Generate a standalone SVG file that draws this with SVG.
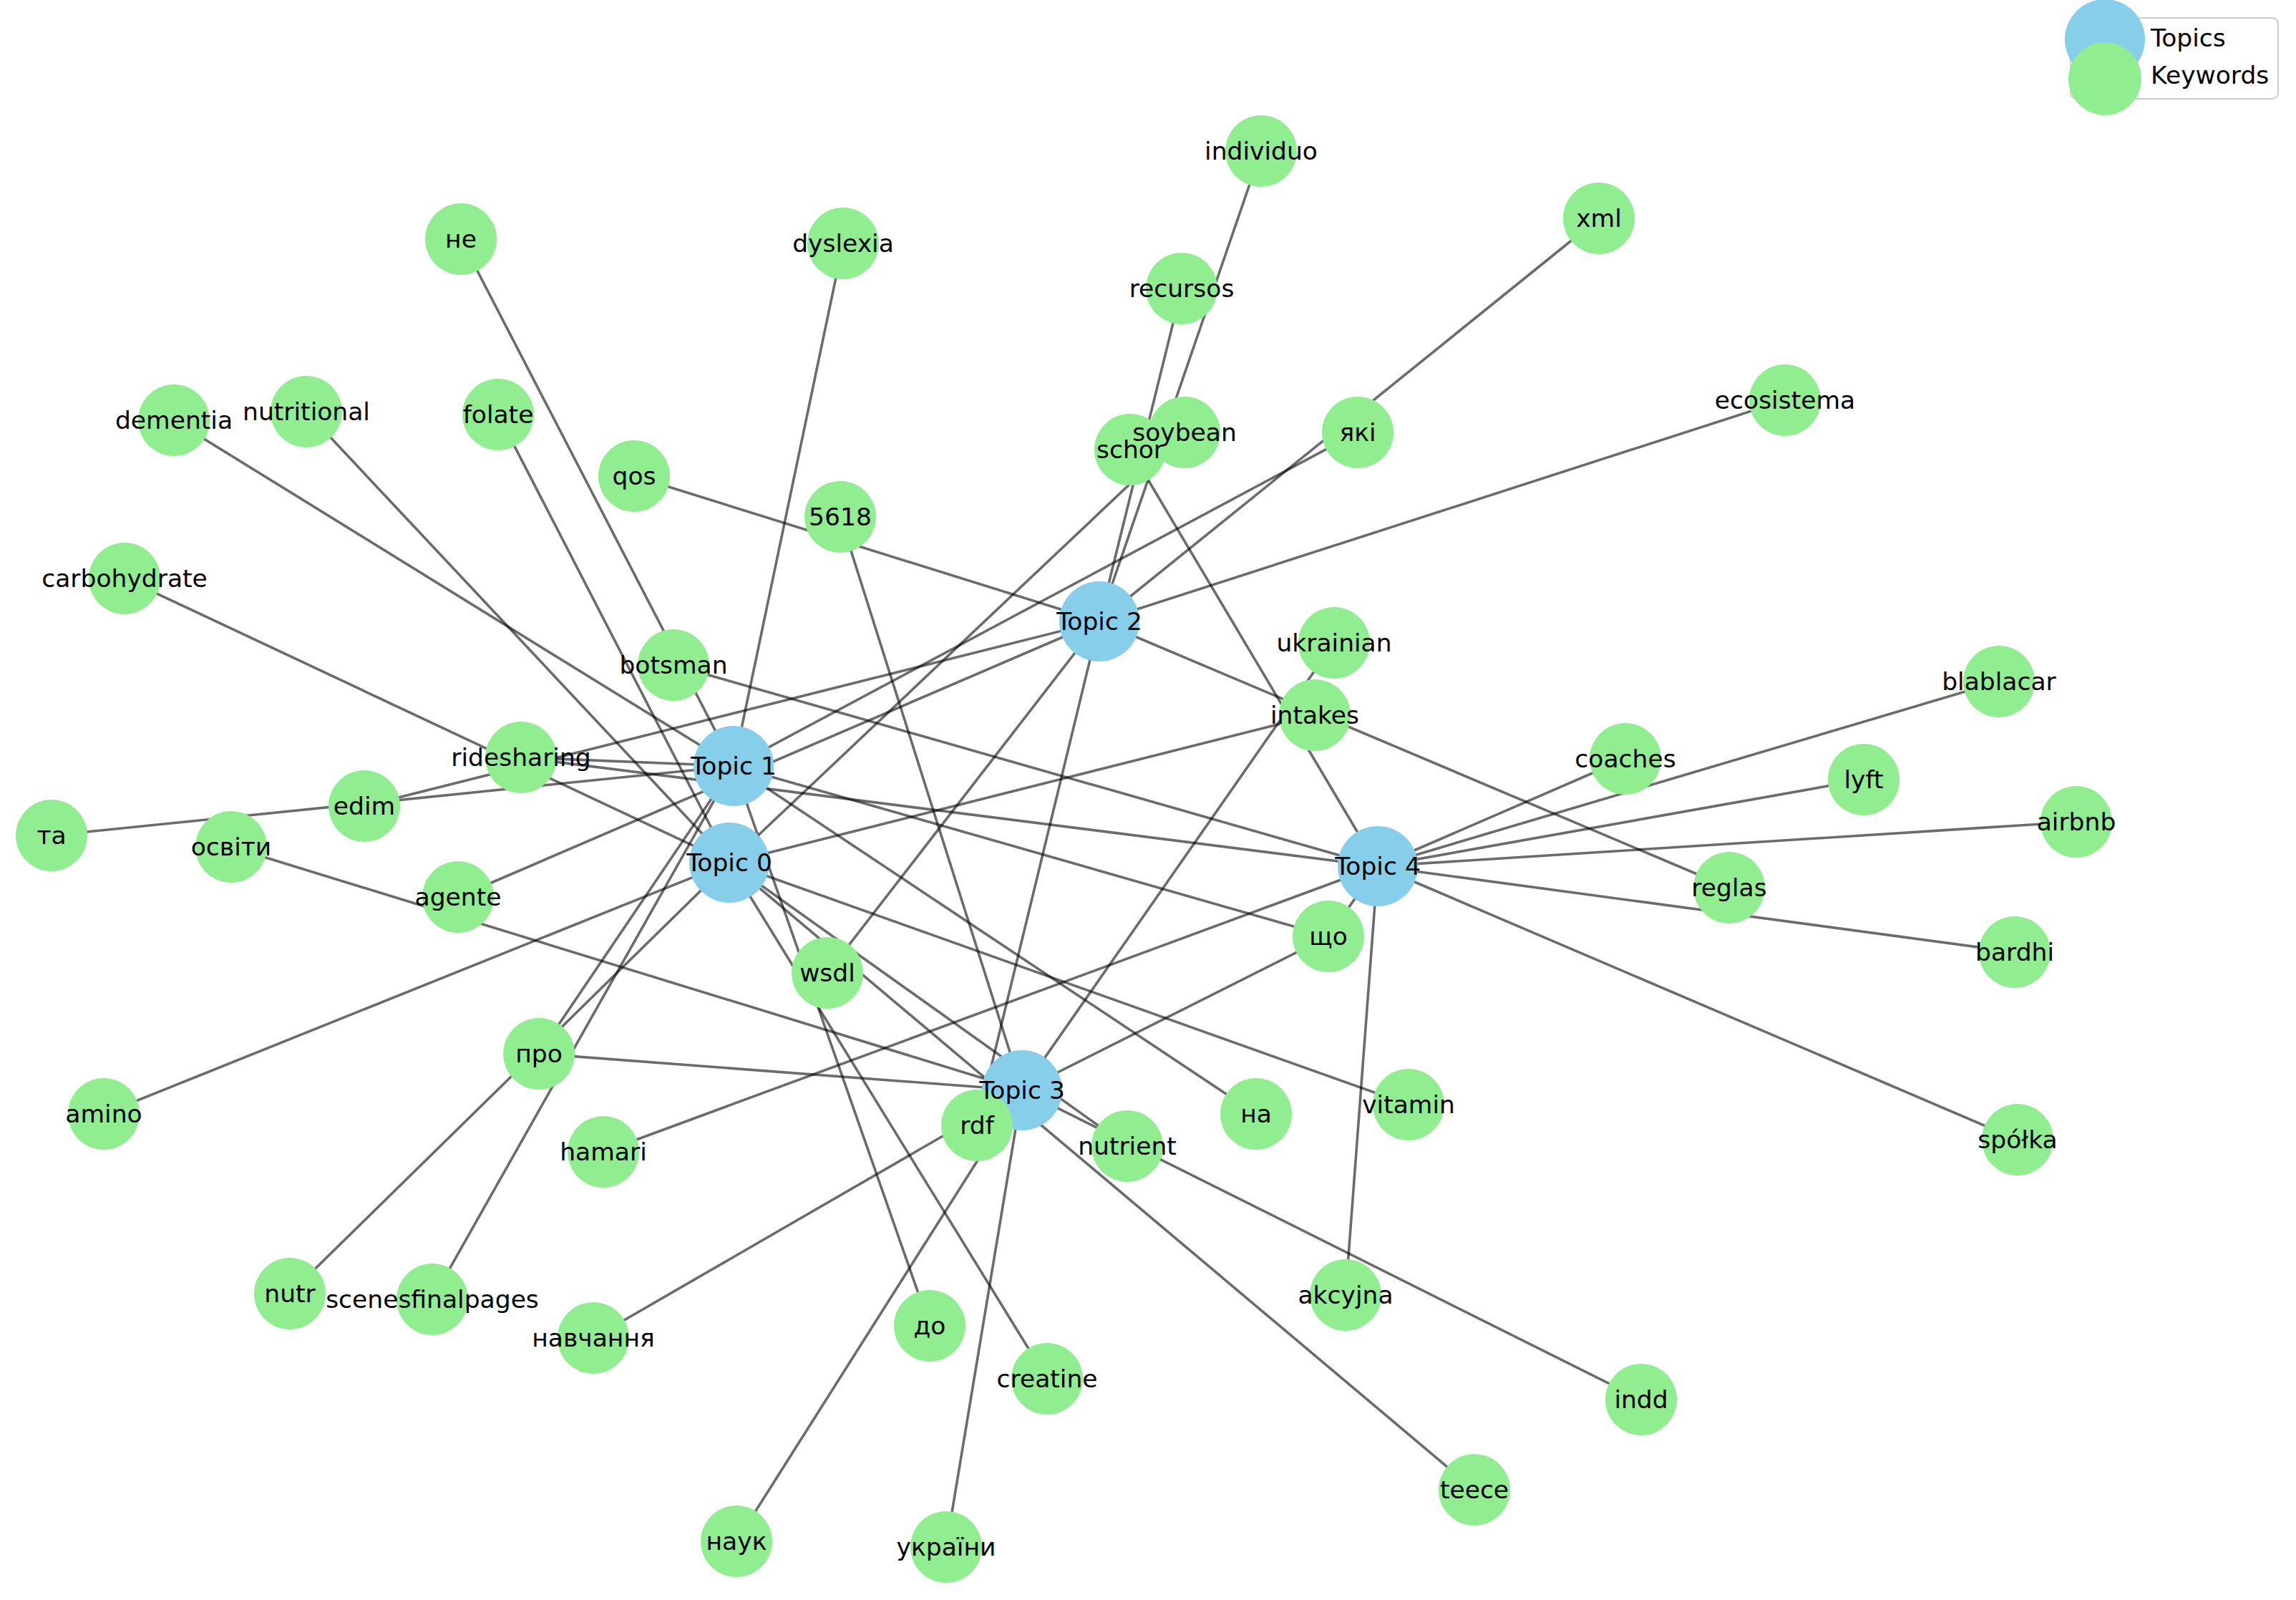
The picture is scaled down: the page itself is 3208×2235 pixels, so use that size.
<svg xmlns="http://www.w3.org/2000/svg" width="3208" height="2235" viewBox="0 0 3208 2235">
<style>
.e{stroke:#000;stroke-opacity:0.58;stroke-width:3.6;fill:none}
.t{fill:#87CEEB}
.k{fill:#90EE90}
text{font-family:"DejaVu Sans","Liberation Sans",sans-serif;font-size:34.5px;fill:#000;text-anchor:middle;dominant-baseline:central}
.lg{text-anchor:start}
</style>
<rect width="3208" height="2235" fill="#fff"/>
<g id="edges">
<!-- Topic 0 -->
<line class="e" x1="1019" y1="1205" x2="1655" y2="604"/>
<line class="e" x1="1019" y1="1205" x2="1837" y2="999"/>
<line class="e" x1="1019" y1="1205" x2="1968" y2="1543"/>
<line class="e" x1="1019" y1="1205" x2="2060" y2="2081"/>
<line class="e" x1="1019" y1="1205" x2="1575" y2="1601"/>
<line class="e" x1="1019" y1="1205" x2="174" y2="808"/>
<line class="e" x1="1019" y1="1205" x2="696" y2="579"/>
<line class="e" x1="1019" y1="1205" x2="428" y2="575"/>
<line class="e" x1="1019" y1="1205" x2="145" y2="1556"/>
<line class="e" x1="1019" y1="1205" x2="405" y2="1807"/>
<line class="e" x1="1019" y1="1205" x2="1463" y2="1926"/>
<!-- Topic 1 -->
<line class="e" x1="1025" y1="1070" x2="644" y2="334"/>
<line class="e" x1="1025" y1="1070" x2="1178" y2="340"/>
<line class="e" x1="1025" y1="1070" x2="243" y2="587"/>
<line class="e" x1="1025" y1="1070" x2="72" y2="1167"/>
<line class="e" x1="1025" y1="1070" x2="1897" y2="604"/>
<line class="e" x1="1025" y1="1070" x2="753" y2="1472"/>
<line class="e" x1="1025" y1="1070" x2="604" y2="1815"/>
<line class="e" x1="1025" y1="1070" x2="1299" y2="1852"/>
<line class="e" x1="1025" y1="1070" x2="1755" y2="1556"/>
<line class="e" x1="1025" y1="1070" x2="1856" y2="1308"/>
<line class="e" x1="1025" y1="1070" x2="728" y2="1058"/>
<!-- Topic 2 -->
<line class="e" x1="1536" y1="868" x2="1762" y2="211"/>
<line class="e" x1="1536" y1="868" x2="1651" y2="403"/>
<line class="e" x1="1536" y1="868" x2="2234" y2="305"/>
<line class="e" x1="1536" y1="868" x2="2494" y2="559"/>
<line class="e" x1="1536" y1="868" x2="886" y2="665"/>
<line class="e" x1="1536" y1="868" x2="509" y2="1126"/>
<line class="e" x1="1536" y1="868" x2="640" y2="1253"/>
<line class="e" x1="1536" y1="868" x2="1156" y2="1359"/>
<line class="e" x1="1536" y1="868" x2="1365" y2="1572"/>
<line class="e" x1="1536" y1="868" x2="2416" y2="1240"/>
<!-- Topic 3 -->
<line class="e" x1="1428" y1="1523" x2="1174" y2="722"/>
<line class="e" x1="1428" y1="1523" x2="323" y2="1183"/>
<line class="e" x1="1428" y1="1523" x2="753" y2="1472"/>
<line class="e" x1="1428" y1="1523" x2="1029" y2="2153"/>
<line class="e" x1="1428" y1="1523" x2="829" y2="1869"/>
<line class="e" x1="1428" y1="1523" x2="1322" y2="2161"/>
<line class="e" x1="1428" y1="1523" x2="2293" y2="1955"/>
<line class="e" x1="1428" y1="1523" x2="1864" y2="898"/>
<line class="e" x1="1428" y1="1523" x2="1856" y2="1308"/>
<!-- Topic 4 -->
<line class="e" x1="1925" y1="1210" x2="941" y2="929"/>
<line class="e" x1="1925" y1="1210" x2="1579" y2="628"/>
<line class="e" x1="1925" y1="1210" x2="843" y2="1609"/>
<line class="e" x1="1925" y1="1210" x2="2271" y2="1060"/>
<line class="e" x1="1925" y1="1210" x2="2793" y2="952"/>
<line class="e" x1="1925" y1="1210" x2="2604" y2="1089"/>
<line class="e" x1="1925" y1="1210" x2="2901" y2="1148"/>
<line class="e" x1="1925" y1="1210" x2="2815" y2="1330"/>
<line class="e" x1="1925" y1="1210" x2="2819" y2="1592"/>
<line class="e" x1="1925" y1="1210" x2="1880" y2="1809"/>
<line class="e" x1="1925" y1="1210" x2="728" y2="1058"/>
<line class="e" x1="1925" y1="1210" x2="1856" y2="1308"/>
</g>
<g id="topics">
<g id="topic0"><circle class="t" cx="1019" cy="1205" r="56"/></g>
<g id="topic1"><circle class="t" cx="1025" cy="1070" r="56"/></g>
<g id="topic2"><circle class="t" cx="1536" cy="868" r="56"/></g>
<g id="topic3"><circle class="t" cx="1428" cy="1523" r="56"/></g>
<g id="topic4"><circle class="t" cx="1925" cy="1210" r="56"/></g>
</g>
<g id="keywords">
<g id="kw-individuo"><circle class="k" cx="1762" cy="211" r="50"/></g>
<g id="kw-xml"><circle class="k" cx="2234" cy="305" r="50"/></g>
<g id="kw-ne"><circle class="k" cx="644" cy="334" r="50"/></g>
<g id="kw-dyslexia"><circle class="k" cx="1178" cy="340" r="50"/></g>
<g id="kw-recursos"><circle class="k" cx="1651" cy="403" r="50"/></g>
<g id="kw-ecosistema"><circle class="k" cx="2494" cy="559" r="50"/></g>
<g id="kw-dementia"><circle class="k" cx="243" cy="587" r="50"/></g>
<g id="kw-nutritional"><circle class="k" cx="428" cy="575" r="50"/></g>
<g id="kw-folate"><circle class="k" cx="696" cy="579" r="50"/></g>
<g id="kw-schor"><circle class="k" cx="1579" cy="628" r="50"/></g>
<g id="kw-soybean"><circle class="k" cx="1655" cy="604" r="50"/></g>
<g id="kw-yaki"><circle class="k" cx="1897" cy="604" r="50"/></g>
<g id="kw-qos"><circle class="k" cx="886" cy="665" r="50"/></g>
<g id="kw-5618"><circle class="k" cx="1174" cy="722" r="50"/></g>
<g id="kw-carbohydrate"><circle class="k" cx="174" cy="808" r="50"/></g>
<g id="kw-ukrainian"><circle class="k" cx="1864" cy="898" r="50"/></g>
<g id="kw-botsman"><circle class="k" cx="941" cy="929" r="50"/></g>
<g id="kw-intakes"><circle class="k" cx="1837" cy="999" r="50"/></g>
<g id="kw-blablacar"><circle class="k" cx="2793" cy="952" r="50"/></g>
<g id="kw-coaches"><circle class="k" cx="2271" cy="1060" r="50"/></g>
<g id="kw-lyft"><circle class="k" cx="2604" cy="1089" r="50"/></g>
<g id="kw-ridesharing"><circle class="k" cx="728" cy="1058" r="50"/></g>
<g id="kw-edim"><circle class="k" cx="509" cy="1126" r="50"/></g>
<g id="kw-ta"><circle class="k" cx="72" cy="1167" r="50"/></g>
<g id="kw-osvity"><circle class="k" cx="323" cy="1183" r="50"/></g>
<g id="kw-airbnb"><circle class="k" cx="2901" cy="1148" r="50"/></g>
<g id="kw-agente"><circle class="k" cx="640" cy="1253" r="50"/></g>
<g id="kw-reglas"><circle class="k" cx="2416" cy="1240" r="50"/></g>
<g id="kw-shcho"><circle class="k" cx="1856" cy="1308" r="50"/></g>
<g id="kw-bardhi"><circle class="k" cx="2815" cy="1330" r="50"/></g>
<g id="kw-wsdl"><circle class="k" cx="1156" cy="1359" r="50"/></g>
<g id="kw-pro"><circle class="k" cx="753" cy="1472" r="50"/></g>
<g id="kw-amino"><circle class="k" cx="145" cy="1556" r="50"/></g>
<g id="kw-na"><circle class="k" cx="1755" cy="1556" r="50"/></g>
<g id="kw-vitamin"><circle class="k" cx="1968" cy="1543" r="50"/></g>
<g id="kw-rdf"><circle class="k" cx="1365" cy="1572" r="50"/></g>
<g id="kw-nutrient"><circle class="k" cx="1575" cy="1601" r="50"/></g>
<g id="kw-hamari"><circle class="k" cx="843" cy="1609" r="50"/></g>
<g id="kw-spolka"><circle class="k" cx="2819" cy="1592" r="50"/></g>
<g id="kw-nutr"><circle class="k" cx="405" cy="1807" r="50"/></g>
<g id="kw-scenesfinalpages"><circle class="k" cx="604" cy="1815" r="50"/></g>
<g id="kw-akcyjna"><circle class="k" cx="1880" cy="1809" r="50"/></g>
<g id="kw-navchannia"><circle class="k" cx="829" cy="1869" r="50"/></g>
<g id="kw-do"><circle class="k" cx="1299" cy="1852" r="50"/></g>
<g id="kw-creatine"><circle class="k" cx="1463" cy="1926" r="50"/></g>
<g id="kw-indd"><circle class="k" cx="2293" cy="1955" r="50"/></g>
<g id="kw-teece"><circle class="k" cx="2060" cy="2081" r="50"/></g>
<g id="kw-nauk"><circle class="k" cx="1029" cy="2153" r="50"/></g>
<g id="kw-ukrainy"><circle class="k" cx="1322" cy="2161" r="50"/></g>
</g>
<g id="labels">
<text x="1019" y="1205">Topic 0</text>
<text x="1025" y="1070">Topic 1</text>
<text x="1536" y="868">Topic 2</text>
<text x="1428" y="1523">Topic 3</text>
<text x="1925" y="1210">Topic 4</text>
<text x="1762" y="211">individuo</text>
<text x="2234" y="305">xml</text>
<text x="644" y="334">не</text>
<text x="1178" y="340">dyslexia</text>
<text x="1651" y="403">recursos</text>
<text x="2494" y="559">ecosistema</text>
<text x="243" y="587">dementia</text>
<text x="428" y="575">nutritional</text>
<text x="696" y="579">folate</text>
<text x="1579" y="628">schor</text>
<text x="1655" y="604">soybean</text>
<text x="1897" y="604">які</text>
<text x="886" y="665">qos</text>
<text x="1174" y="722">5618</text>
<text x="174" y="808">carbohydrate</text>
<text x="1864" y="898">ukrainian</text>
<text x="941" y="929">botsman</text>
<text x="1837" y="999">intakes</text>
<text x="2793" y="952">blablacar</text>
<text x="2271" y="1060">coaches</text>
<text x="2604" y="1089">lyft</text>
<text x="728" y="1058">ridesharing</text>
<text x="509" y="1126">edim</text>
<text x="72" y="1167">та</text>
<text x="323" y="1183">освіти</text>
<text x="2901" y="1148">airbnb</text>
<text x="640" y="1253">agente</text>
<text x="2416" y="1240">reglas</text>
<text x="1856" y="1308">що</text>
<text x="2815" y="1330">bardhi</text>
<text x="1156" y="1359">wsdl</text>
<text x="753" y="1472">про</text>
<text x="145" y="1556">amino</text>
<text x="1755" y="1556">на</text>
<text x="1968" y="1543">vitamin</text>
<text x="1365" y="1572">rdf</text>
<text x="1575" y="1601">nutrient</text>
<text x="843" y="1609">hamari</text>
<text x="2819" y="1592">spółka</text>
<text x="405" y="1807">nutr</text>
<text x="604" y="1815">scenesfinalpages</text>
<text x="1880" y="1809">akcyjna</text>
<text x="829" y="1869">навчання</text>
<text x="1299" y="1852">до</text>
<text x="1463" y="1926">creatine</text>
<text x="2293" y="1955">indd</text>
<text x="2060" y="2081">teece</text>
<text x="1029" y="2153">наук</text>
<text x="1322" y="2161">україни</text>
</g>
<g id="legend">
<rect x="2893" y="25" width="290" height="113" rx="8" ry="8" fill="#fff" fill-opacity="0.8" stroke="#ccc" stroke-width="2"/>
<circle class="t" cx="2941" cy="55" r="56"/>
<circle class="k" cx="2941" cy="110" r="51"/>
<text class="lg" x="3005" y="53">Topics</text>
<text class="lg" x="3005" y="105">Keywords</text>
</g>
</svg>
